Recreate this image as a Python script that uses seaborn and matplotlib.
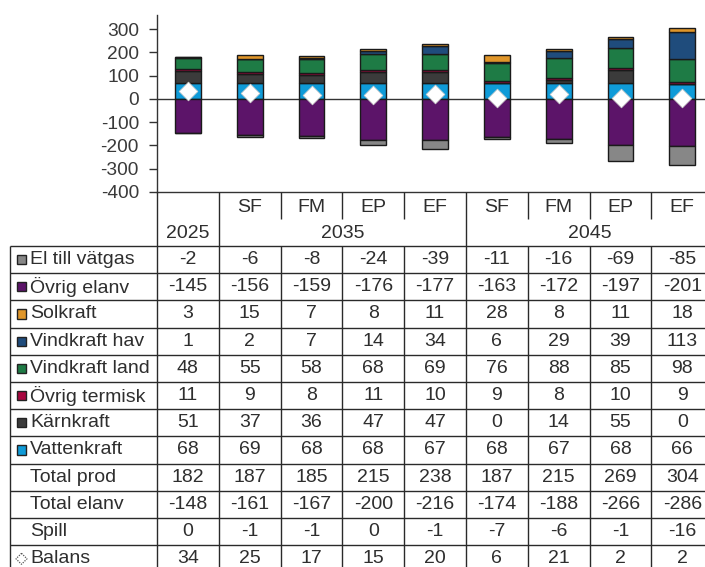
import numpy as np
import pandas as pd
import matplotlib
matplotlib.use("Agg")
import matplotlib.pyplot as plt
from matplotlib.patches import Polygon
import seaborn as sns

# ---- data (TWh) ----
years = ["2025", "2035", "2045"]
col_keys = ["2025", "2035 SF", "2035 FM", "2035 EP", "2035 EF",
            "2045 SF", "2045 FM", "2045 EP", "2045 EF"]
col_scen = ["", "SF", "FM", "EP", "EF", "SF", "FM", "EP", "EF"]

el_vatgas   = [-2, -6, -8, -24, -39, -11, -16, -69, -85]
ovrig_elanv = [-145, -156, -159, -176, -177, -163, -172, -197, -201]
solkraft    = [3, 15, 7, 8, 11, 28, 8, 11, 18]
vind_hav    = [1, 2, 7, 14, 34, 6, 29, 39, 113]
vind_land   = [48, 55, 58, 68, 69, 76, 88, 85, 98]
ovrig_term  = [11, 9, 8, 11, 10, 9, 8, 10, 9]
karnkraft   = [51, 37, 36, 47, 47, 0, 14, 55, 0]
vattenkraft = [68, 69, 68, 68, 67, 68, 67, 68, 66]
total_prod  = [182, 187, 185, 215, 238, 187, 215, 269, 304]
total_elanv = [-148, -161, -167, -200, -216, -174, -188, -266, -286]
spill       = [0, -1, -1, 0, -1, -7, -6, -1, -16]
balans      = [34, 25, 17, 15, 20, 6, 21, 2, 2]

c_vatgas, c_elanv, c_sol = "#878787", "#5C1469", "#E0962A"
c_hav, c_land, c_term = "#1F4C7C", "#1E7B45", "#A8063F"
c_karn, c_vatten = "#3B3B3B", "#0F9BD8"

# stacked upwards from zero / downwards from zero
pos_series = [
    ("Vattenkraft", vattenkraft, c_vatten),
    ("Kärnkraft", karnkraft, c_karn),
    ("Övrig termisk", ovrig_term, c_term),
    ("Vindkraft land", vind_land, c_land),
    ("Vindkraft hav", vind_hav, c_hav),
    ("Solkraft", solkraft, c_sol),
]
neg_series = [
    ("Övrig elanv", ovrig_elanv, c_elanv),
    ("El till vätgas", el_vatgas, c_vatgas),
]

table_rows = [
    ("El till vätgas", el_vatgas, c_vatgas),
    ("Övrig elanv", ovrig_elanv, c_elanv),
    ("Solkraft", solkraft, c_sol),
    ("Vindkraft hav", vind_hav, c_hav),
    ("Vindkraft land", vind_land, c_land),
    ("Övrig termisk", ovrig_term, c_term),
    ("Kärnkraft", karnkraft, c_karn),
    ("Vattenkraft", vattenkraft, c_vatten),
    ("Total prod", total_prod, None),
    ("Total elanv", total_elanv, None),
    ("Spill", spill, None),
    ("Balans", balans, "diamond"),
]

sns.set_theme(style="white")
plt.rcParams["font.family"] = ["Liberation Sans", "DejaVu Sans"]
plt.rcParams["axes.unicode_minus"] = False

W, H = 705, 567
fig = plt.figure(figsize=(W / 100, H / 100), dpi=100)
fig.patch.set_facecolor("white")

# pixel layout
x0_px, colw_px = 157, 61.8
top_px, axis_bot_px = 15, 192
ncol = len(col_keys)
ax_l = x0_px / W
ax_w = ncol * colw_px / W
ax = fig.add_axes([ax_l, (H - axis_bot_px) / H, ax_w, (axis_bot_px - top_px) / H])

edge = "#1a1a1a"
bw = 0.42
df = pd.DataFrame({"col": col_keys})

bottom = np.zeros(ncol)
for name, vals, color in pos_series:
    sns.barplot(x=df["col"], y=np.array(vals, float), bottom=bottom.copy(),
                color=color, width=bw, edgecolor=edge, linewidth=1.0,
                saturation=1, ax=ax, zorder=3)
    bottom += np.array(vals, float)

bottom = np.zeros(ncol)
for name, vals, color in neg_series:
    sns.barplot(x=df["col"], y=np.array(vals, float), bottom=bottom.copy(),
                color=color, width=bw, edgecolor=edge, linewidth=1.0,
                saturation=1, ax=ax, zorder=3)
    bottom += np.array(vals, float)

ax.axhline(0, color="#333333", lw=1.0, zorder=2)
ax.scatter(np.arange(ncol), balans, marker="D", s=90, color="white",
           edgecolor="#d0d0d0", linewidth=0.6, zorder=5)

ax.set_xlim(-0.5, ncol - 0.5)
ax.set_ylim(-400, 361)
ax.set_yticks(np.arange(-400, 301, 100))
ax.set_yticklabels([str(v) for v in range(-400, 301, 100)])
ax.set_xticks([])
ax.set_xlabel("")
ax.set_ylabel("")
for s in ["top", "right"]:
    ax.spines[s].set_visible(False)
for s in ["left", "bottom"]:
    ax.spines[s].set_color("#333333")
    ax.spines[s].set_linewidth(1.0)
ax.tick_params(axis="y", direction="out", length=6, width=1, color="#333333",
               labelsize=13.8, labelcolor="#3a3a3a", pad=7, left=True)

# ---- data table below the axis ----
tab = fig.add_axes([ax_l, 0, ax_w, (H - axis_bot_px) / H])
tab.set_xlim(-0.5, ncol - 0.5)
tab.set_ylim(H, axis_bot_px)
tab.axis("off")

def px2x(p):
    return -0.5 + (p - x0_px) / colw_px

row_top = 246.0
row_h = 27.2
hdr_mid = 219
nrows = len(table_rows)
tab_bot = row_top + row_h * nrows
lc = "#2a2a2a"
txt = "#2e2e2e"
fs = 14

kw = dict(color=lc, lw=1.0, clip_on=False, solid_capstyle="butt")
# vertical rules
for xb in [-0.5, 0.5, 4.5, 8.5]:
    tab.plot([xb, xb], [axis_bot_px, tab_bot], **kw)
for xb in [1.5, 2.5, 3.5, 5.5, 6.5, 7.5]:
    tab.plot([xb, xb], [axis_bot_px, hdr_mid], **kw)
    tab.plot([xb, xb], [row_top, tab_bot], **kw)
lab_left = px2x(10)
tab.plot([lab_left, lab_left], [row_top, tab_bot], **kw)
# horizontal rules
for r in range(nrows + 1):
    y = row_top + r * row_h
    tab.plot([lab_left, ncol - 0.5], [y, y], **kw)

# column headers
for i, s in enumerate(col_scen):
    if s:
        tab.text(i, 207, s, ha="center", va="center", fontsize=fs, color=txt)
tab.text(0, 233, years[0], ha="center", va="center", fontsize=fs, color=txt)
tab.text(2.5, 233, years[1], ha="center", va="center", fontsize=fs, color=txt)
tab.text(6.5, 233, years[2], ha="center", va="center", fontsize=fs, color=txt)

# rows with legend keys
mx = px2x(21.5)
tx = px2x(30)
half_w = 4.6 / colw_px
for r, (name, vals, color) in enumerate(table_rows):
    yc = row_top + (r + 0.5) * row_h
    if color == "diamond":
        d = 5.5
        poly = Polygon([(mx, yc - d), (mx + d / colw_px, yc), (mx, yc + d),
                        (mx - d / colw_px, yc)], closed=True, facecolor="white",
                       edgecolor="#555555", lw=0.9, ls=(0, (1, 1)), clip_on=False)
        tab.add_patch(poly)
    elif color is not None:
        sq = Polygon([(mx - half_w, yc - 4.6), (mx + half_w, yc - 4.6),
                      (mx + half_w, yc + 4.6), (mx - half_w, yc + 4.6)], closed=True,
                     facecolor=color, edgecolor="#222222", lw=1.0, clip_on=False)
        tab.add_patch(sq)
    tab.text(tx, yc, name, ha="left", va="center", fontsize=fs, color=txt)
    for i, v in enumerate(vals):
        tab.text(i, yc, str(v), ha="center", va="center", fontsize=fs, color=txt)

fig.savefig("out.png", dpi=100, facecolor="white")
